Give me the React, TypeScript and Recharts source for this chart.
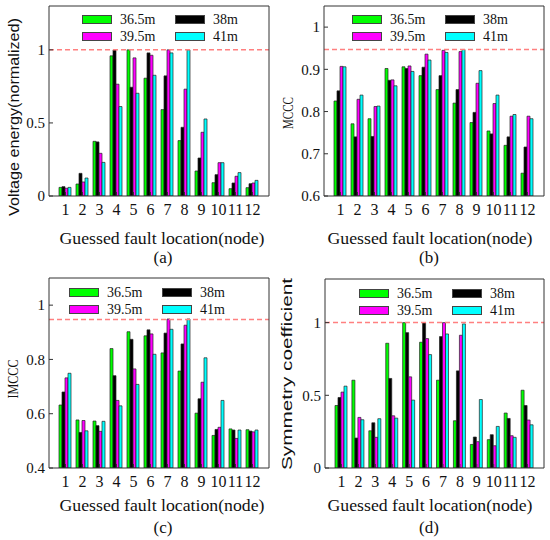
import React from "react";
import { BarChart, Bar, XAxis, YAxis, ReferenceLine, Legend } from "recharts";

const nodes = ["1", "2", "3", "4", "5", "6", "7", "8", "9", "10", "11", "12"];
const seriesNames = ["36.5m", "38m", "39.5m", "41m"];
const seriesColors = ["#00ff00", "#000000", "#ff00ff", "#00ffff"];

// (a) voltage energy, normalized
const energy365 = [0.059, 0.082, 0.374, 0.959, 1.0, 0.806, 0.591, 0.379, 0.171, 0.091, 0.05, 0.057];
const energy38 = [0.064, 0.155, 0.37, 1.0, 0.744, 0.979, 0.822, 0.47, 0.26, 0.146, 0.089, 0.084];
const energy395 = [0.053, 0.096, 0.292, 0.765, 0.945, 0.963, 1.0, 0.731, 0.436, 0.228, 0.135, 0.089];
const energy41 = [0.059, 0.123, 0.23, 0.612, 0.703, 0.826, 0.979, 1.0, 0.527, 0.228, 0.16, 0.107];

// (b) MCCC
const mccc365 = [0.825, 0.771, 0.783, 0.902, 0.906, 0.885, 0.852, 0.82, 0.774, 0.754, 0.72, 0.654];
const mccc38 = [0.849, 0.74, 0.741, 0.874, 0.902, 0.905, 0.885, 0.852, 0.798, 0.747, 0.74, 0.716];
const mccc395 = [0.907, 0.829, 0.812, 0.875, 0.908, 0.936, 0.945, 0.942, 0.867, 0.819, 0.789, 0.789];
const mccc41 = [0.906, 0.839, 0.813, 0.861, 0.895, 0.922, 0.94, 0.947, 0.897, 0.839, 0.793, 0.783];

// (c) IMCCC
const imccc365 = [0.632, 0.577, 0.573, 0.84, 0.902, 0.887, 0.824, 0.757, 0.602, 0.52, 0.544, 0.541];
const imccc38 = [0.68, 0.531, 0.556, 0.74, 0.874, 0.909, 0.897, 0.857, 0.655, 0.542, 0.54, 0.536];
const imccc395 = [0.732, 0.575, 0.535, 0.649, 0.765, 0.894, 0.949, 0.926, 0.716, 0.55, 0.509, 0.533];
const imccc41 = [0.749, 0.537, 0.572, 0.629, 0.708, 0.819, 0.911, 0.949, 0.806, 0.649, 0.54, 0.54];

// (d) symmetry coefficient
const sym365 = [0.43, 0.604, 0.256, 0.858, 1.0, 0.865, 0.604, 0.325, 0.162, 0.195, 0.378, 0.535];
const sym38 = [0.485, 0.206, 0.311, 0.616, 0.931, 1.0, 0.904, 0.668, 0.213, 0.229, 0.341, 0.43];
const sym395 = [0.522, 0.348, 0.211, 0.359, 0.627, 0.89, 1.0, 0.913, 0.181, 0.153, 0.222, 0.33];
const sym41 = [0.563, 0.332, 0.339, 0.343, 0.467, 0.78, 0.922, 0.991, 0.471, 0.286, 0.211, 0.297];

const energyTicks = [0, 0.5, 1];
const mcccTicks = [0.6, 0.7, 0.8, 0.9, 1];
const imcccTicks = [0.4, 0.6, 0.8, 1];
const symTicks = [0, 0.5, 1];

const serif = "'Liberation Serif', 'Times New Roman', serif";
const sans = "'Liberation Sans', Arial, sans-serif";
const axisColor = "#333";

const keys = ["s0", "s1", "s2", "s3"];

function rows(series: number[][]) {
  return nodes.map((node, i) => {
    const row: Record<string, any> = { node };
    series.forEach((s, k) => (row[keys[k]] = s[i]));
    return row;
  });
}

function LegendBox({ payload }: any) {
  return (
    <div style={{ display: "grid", gridTemplateColumns: "93px 93px", rowGap: 8 }}>
      {(payload || []).map((p: any) => (
        <div key={p.value} style={{ display: "flex", alignItems: "center", height: 9 }}>
          <span
            style={{
              width: 30,
              height: 9,
              background: p.color,
              border: "1px solid #444",
              boxSizing: "border-box",
            }}
          />
          <span style={{ marginLeft: 8, fontFamily: serif, fontSize: 14, color: "#111" }}>
            {p.value}
          </span>
        </div>
      ))}
    </div>
  );
}

interface PanelProps {
  left: number;
  top: number;
  data: Record<string, any>[];
  domain: [number, number];
  ticks: number[];
  refValue: number;
  plot: { l: number; r: number; t: number; b: number };
  legendPos: { x: number; y: number };
}

function Panel({ left, top, data, domain, ticks, refValue, plot, legendPos }: PanelProps) {
  const W = 275;
  const H = 270;
  const yTick = { fill: "#111", fontSize: 15, fontFamily: serif };
  const xTick = { fill: "#111", fontSize: 16, fontFamily: serif };
  return (
    <div style={{ position: "absolute", left, top }}>
      <BarChart
        width={W}
        height={H}
        data={data}
        margin={{ top: 0, right: 0, bottom: 0, left: 0 }}
        barCategoryGap={2}
        barGap={0}
      >
        <XAxis
          xAxisId="b"
          dataKey="node"
          height={H - plot.b}
          padding={{ left: 8, right: 8 }}
          interval={0}
          tickSize={-4}
          tickMargin={12}
          stroke={axisColor}
          tick={xTick}
        />
        <XAxis
          xAxisId="t"
          dataKey="node"
          orientation="top"
          height={plot.t}
          padding={{ left: 8, right: 8 }}
          interval={0}
          tickSize={-4}
          stroke={axisColor}
          tick={false}
        />
        <YAxis
          yAxisId="l"
          domain={domain}
          ticks={ticks}
          width={plot.l}
          tickSize={-4}
          tickMargin={8}
          stroke={axisColor}
          tick={yTick}
          allowDataOverflow
        />
        <YAxis
          yAxisId="r"
          orientation="right"
          domain={domain}
          ticks={ticks}
          width={W - plot.r}
          tickSize={-4}
          stroke={axisColor}
          tick={false}
          allowDataOverflow
        />
        <Legend
          verticalAlign="middle"
          layout="horizontal"
          content={<LegendBox />}
          wrapperStyle={{ top: legendPos.y, left: legendPos.x, width: 200, height: 30 }}
        />
        {keys.map((k, i) => (
          <Bar
            key={k}
            xAxisId="b"
            yAxisId="l"
            dataKey={k}
            name={seriesNames[i]}
            fill={seriesColors[i]}
            stroke="#222"
            strokeWidth={0.7}
            isAnimationActive={false}
          />
        ))}
        <ReferenceLine
          xAxisId="b"
          yAxisId="l"
          y={refValue}
          stroke="#ff8080"
          strokeWidth={1.5}
          strokeDasharray="5 3"
        />
      </BarChart>
    </div>
  );
}

const xTitle = "Guessed fault location(node)";

function XTitle({ x, y }: { x: number; y: number }) {
  return (
    <text
      x={x}
      y={y}
      textAnchor="middle"
      fontFamily={serif}
      fontSize={17}
      textLength={205}
      lengthAdjust="spacingAndGlyphs"
    >
      {xTitle}
    </text>
  );
}

export default function App() {
  return (
    <div
      style={{
        position: "absolute",
        left: 0,
        top: 0,
        width: 550,
        height: 540,
        background: "#fff",
        overflow: "hidden",
      }}
    >
      <Panel
        left={0}
        top={0}
        data={rows([energy365, energy38, energy395, energy41])}
        domain={[0, 1.3]}
        ticks={energyTicks}
        refValue={1}
        plot={{ l: 49, r: 269, t: 6, b: 196 }}
        legendPos={{ x: 82, y: 15 }}
      />
      <Panel
        left={275}
        top={0}
        data={rows([mccc365, mccc38, mccc395, mccc41])}
        domain={[0.6, 1.05]}
        ticks={mcccTicks}
        refValue={0.947}
        plot={{ l: 49, r: 269, t: 6, b: 196 }}
        legendPos={{ x: 77, y: 15 }}
      />
      <Panel
        left={0}
        top={270}
        data={rows([imccc365, imccc38, imccc395, imccc41])}
        domain={[0.4, 1.1]}
        ticks={imcccTicks}
        refValue={0.947}
        plot={{ l: 49, r: 269, t: 8, b: 198 }}
        legendPos={{ x: 69, y: 18 }}
      />
      <Panel
        left={275}
        top={270}
        data={rows([sym365, sym38, sym395, sym41])}
        domain={[0, 1.3]}
        ticks={symTicks}
        refValue={1}
        plot={{ l: 50, r: 269, t: 9, b: 198 }}
        legendPos={{ x: 84, y: 19 }}
      />
      <svg
        width={550}
        height={540}
        style={{ position: "absolute", left: 0, top: 0, pointerEvents: "none" }}
      >
        <g fill="#111">
          <text
            transform="translate(13,117) rotate(-90)"
            textAnchor="middle"
            dominantBaseline="central"
            fontFamily={sans}
            fontSize={15}
            textLength={198}
            lengthAdjust="spacingAndGlyphs"
          >
            Voltage energy(normalized)
          </text>
          <text
            transform="translate(288,113) rotate(-90)"
            textAnchor="middle"
            dominantBaseline="central"
            fontFamily={serif}
            fontSize={15}
            textLength={32}
            lengthAdjust="spacingAndGlyphs"
          >
            MCCC
          </text>
          <text
            transform="translate(13,379) rotate(-90)"
            textAnchor="middle"
            dominantBaseline="central"
            fontFamily={serif}
            fontSize={15}
            textLength={39}
            lengthAdjust="spacingAndGlyphs"
          >
            IMCCC
          </text>
          <text
            transform="translate(287,374) rotate(-90)"
            textAnchor="middle"
            dominantBaseline="central"
            fontFamily={sans}
            fontSize={14}
            textLength={192}
            lengthAdjust="spacingAndGlyphs"
          >
            Symmetry coefficient
          </text>

          <XTitle x={162} y={244} />
          <XTitle x={430} y={244} />
          <XTitle x={162} y={511} />
          <XTitle x={430} y={511} />

          <text x={163} y={263} textAnchor="middle" fontFamily={serif} fontSize={17}>
            (a)
          </text>
          <text x={429} y={263} textAnchor="middle" fontFamily={serif} fontSize={17}>
            (b)
          </text>
          <text x={163} y={533} textAnchor="middle" fontFamily={serif} fontSize={17}>
            (c)
          </text>
          <text x={429} y={533} textAnchor="middle" fontFamily={serif} fontSize={17}>
            (d)
          </text>
        </g>
      </svg>
    </div>
  );
}
